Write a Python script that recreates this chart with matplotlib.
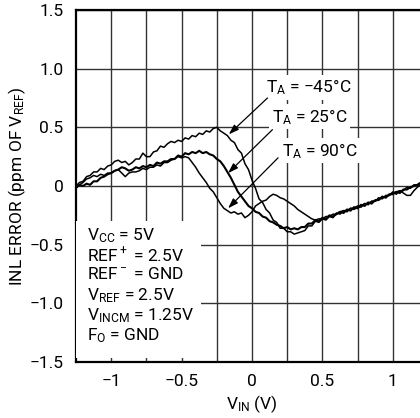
import matplotlib
matplotlib.use("Agg")
import matplotlib.pyplot as plt

fam = ["Roboto", "DejaVu Sans"]
plt.rcParams['font.family'] = fam
plt.rcParams['mathtext.fontset'] = 'custom'
plt.rcParams['mathtext.rm'] = "Roboto"
plt.rcParams['mathtext.it'] = "Roboto"

x_vin = [-1.25, -1.225, -1.2, -1.175, -1.15, -1.125, -1.1, -1.075, -1.05, -1.025,
         -1.0, -0.975, -0.95, -0.925, -0.9, -0.875, -0.85, -0.825, -0.8, -0.775,
         -0.75, -0.725, -0.7, -0.675, -0.65, -0.625, -0.6, -0.575, -0.55, -0.525,
         -0.5, -0.475, -0.45, -0.425, -0.4, -0.375, -0.35, -0.325, -0.3, -0.275,
         -0.25, -0.225, -0.2, -0.175, -0.15, -0.125, -0.1, -0.075, -0.05, -0.025,
         0.0, 0.025, 0.05, 0.075, 0.1, 0.125, 0.15, 0.175, 0.2, 0.225,
         0.25, 0.275, 0.3, 0.325, 0.35, 0.375, 0.4, 0.425, 0.45, 0.475,
         0.5, 0.525, 0.55, 0.575, 0.6, 0.625, 0.65, 0.675, 0.7, 0.725,
         0.75, 0.775, 0.8, 0.825, 0.85, 0.875, 0.9, 0.925, 0.95, 0.975,
         1.0, 1.025, 1.05, 1.075, 1.1, 1.125, 1.15, 1.175, 1.2, 1.225, 1.25]

inl_m45 = [0.00, 0.03, 0.04, 0.08, 0.09, 0.12, 0.12, 0.15, 0.14, 0.17,
           0.18, 0.21, 0.22, 0.20, 0.21, 0.18, 0.20, 0.23, 0.23, 0.28,
           0.25, 0.25, 0.29, 0.30, 0.34, 0.33, 0.36, 0.38, 0.37, 0.39,
           0.38, 0.41, 0.40, 0.43, 0.42, 0.45, 0.44, 0.47, 0.46, 0.49,
           0.50, 0.47, 0.45, 0.43, 0.39, 0.37, 0.31, 0.28, 0.19, 0.14,
           0.05, -0.02, -0.11, -0.14, -0.20, -0.23, -0.29, -0.31, -0.36, -0.36,
           -0.39, -0.39, -0.41, -0.40, -0.39, -0.38, -0.34, -0.34, -0.30, -0.31,
           -0.28, -0.29, -0.26, -0.27, -0.23, -0.24, -0.21, -0.22, -0.19, -0.20,
           -0.18, -0.18, -0.15, -0.16, -0.13, -0.13, -0.10, -0.11, -0.08, -0.08,
           -0.05, -0.07, -0.04, -0.04, -0.01, -0.02, 0.01, 0.01, 0.03, 0.03, 0.05]

inl_25 = [-0.01, 0.01, 0.00, 0.02, 0.01, 0.04, 0.04, 0.07, 0.08, 0.10,
          0.11, 0.13, 0.14, 0.16, 0.15, 0.13, 0.14, 0.16, 0.15, 0.17,
          0.16, 0.18, 0.17, 0.20, 0.19, 0.21, 0.21, 0.23, 0.23, 0.26,
          0.25, 0.28, 0.27, 0.29, 0.28, 0.30, 0.28, 0.29, 0.27, 0.26,
          0.23, 0.21, 0.17, 0.12, 0.07, 0.01, -0.05, -0.09, -0.13, -0.17,
          -0.19, -0.22, -0.23, -0.26, -0.27, -0.30, -0.31, -0.33, -0.34, -0.36,
          -0.35, -0.37, -0.36, -0.37, -0.35, -0.35, -0.32, -0.32, -0.29, -0.30,
          -0.27, -0.28, -0.25, -0.26, -0.24, -0.22, -0.23, -0.20, -0.21, -0.18,
          -0.19, -0.16, -0.17, -0.14, -0.15, -0.12, -0.12, -0.09, -0.10, -0.07,
          -0.07, -0.05, -0.06, -0.03, -0.03, -0.01, 0.00, 0.01, 0.03, 0.02, 0.04]

inl_90 = [-0.02, 0.01, 0.03, 0.06, 0.07, 0.09, 0.08, 0.10, 0.09, 0.11,
          0.11, 0.13, 0.14, 0.11, 0.08, 0.11, 0.12, 0.12, 0.13, 0.15,
          0.14, 0.16, 0.16, 0.18, 0.17, 0.20, 0.20, 0.22, 0.23, 0.25,
          0.24, 0.25, 0.24, 0.20, 0.16, 0.11, 0.07, 0.03, -0.02, -0.05,
          -0.10, -0.15, -0.19, -0.21, -0.23, -0.22, -0.24, -0.23, -0.27, -0.25,
          -0.22, -0.17, -0.15, -0.13, -0.12, -0.09, -0.07, -0.08, -0.10, -0.11,
          -0.13, -0.15, -0.17, -0.20, -0.22, -0.24, -0.26, -0.28, -0.29, -0.28,
          -0.28, -0.26, -0.26, -0.24, -0.24, -0.22, -0.21, -0.21, -0.19, -0.19,
          -0.17, -0.17, -0.15, -0.15, -0.13, -0.13, -0.11, -0.10, -0.09, -0.08,
          -0.06, -0.05, -0.04, -0.06, -0.08, -0.08, -0.04, -0.01, 0.02, 0.04, 0.05]

x_ticks = [-1, -0.5, 0, 0.5, 1]
x_ticklabels = ["\u22121", "\u22120.5", "0", "0.5", "1"]
y_ticks = [-1.5, -1.0, -0.5, 0, 0.5, 1.0, 1.5]
y_ticklabels = ["\u22121.5", "\u22121.0", "\u22120.5", "0", "0.5", "1.0", "1.5"]
x_grid = [-1, -0.75, -0.5, -0.25, 0, 0.25, 0.5, 0.75, 1]

labels = [r"$\mathregular{T_A}$ = " + "\u221245\u00b0C",
          r"$\mathregular{T_A}$ = " + "25\u00b0C",
          r"$\mathregular{T_A}$ = " + "90\u00b0C"]
label_xy = [(0.40, 0.84), (0.41, 0.59), (0.48, 0.30)]
arrow_tail = [(0.11, 0.75), (0.145, 0.48), (0.185, 0.24)]
arrow_tip = [(-0.165, 0.44), (-0.17, 0.11), (-0.17, -0.19)]

conditions = [r"$\mathregular{V_{CC}}$ = 5V", r"REF$\mathregular{^+}$ = 2.5V", r"REF$\mathregular{^-}$ = GND",
              r"$\mathregular{V_{REF}}$ = 2.5V", r"$\mathregular{V_{INCM}}$ = 1.25V", r"$\mathregular{F_O}$ = GND"]

fig = plt.figure(figsize=(4.2, 4.18), dpi=100)
ax = fig.add_axes([76/420, 56/418, 352/420, 352/418])
ax.set_xlim(-1.25, 1.25)
ax.set_ylim(-1.5, 1.5)

for gx in x_grid:
    ax.axvline(gx, color="#333333", lw=1.0, zorder=1)
for gy in y_ticks:
    ax.axhline(gy, color="#333333", lw=1.0, zorder=1)

for ys, lw in ((inl_m45, 1.1), (inl_25, 1.5), (inl_90, 1.1)):
    ax.plot(x_vin, ys, color="black", lw=lw, zorder=3)

ax.set_xticks(x_ticks)
ax.set_xticklabels(x_ticklabels)
ax.set_yticks(y_ticks)
ax.set_yticklabels(y_ticklabels)
ax.tick_params(axis="y", length=0, labelsize=12.5, pad=9)
ax.tick_params(axis="x", length=0, labelsize=12.5, pad=9)
for s in ax.spines.values():
    s.set_linewidth(1.6)
    s.set_color("black")

ax.set_xlabel(r"$\mathregular{V_{IN}}$ (V)", fontsize=12.5, labelpad=3)
ax.set_ylabel(r"INL ERROR (ppm OF $\mathregular{V_{REF}}$)", fontsize=12.5, labelpad=1)

for lab, (lx, ly) in zip(labels, label_xy):
    ax.text(lx, ly, lab, fontsize=12.5, ha="center", va="center", zorder=5,
            bbox=dict(boxstyle="square,pad=0.15", fc="white", ec="none"))
for tl, tp in zip(arrow_tail, arrow_tip):
    ax.annotate("", xy=tp, xytext=tl, zorder=6,
                arrowprops=dict(arrowstyle="-|>,head_length=0.6,head_width=0.2", color="black",
                                lw=0.9, shrinkA=0, shrinkB=0))

ax.add_patch(plt.Rectangle((-1.25, -1.47), 0.89, 1.17, fc="white", ec="none", zorder=4))
for i, c in enumerate(conditions):
    ax.text(-1.175, -0.34 - i * 0.1705, c, fontsize=12.5, ha="left", va="top", zorder=5)

fig.savefig("out.png", dpi=100)
